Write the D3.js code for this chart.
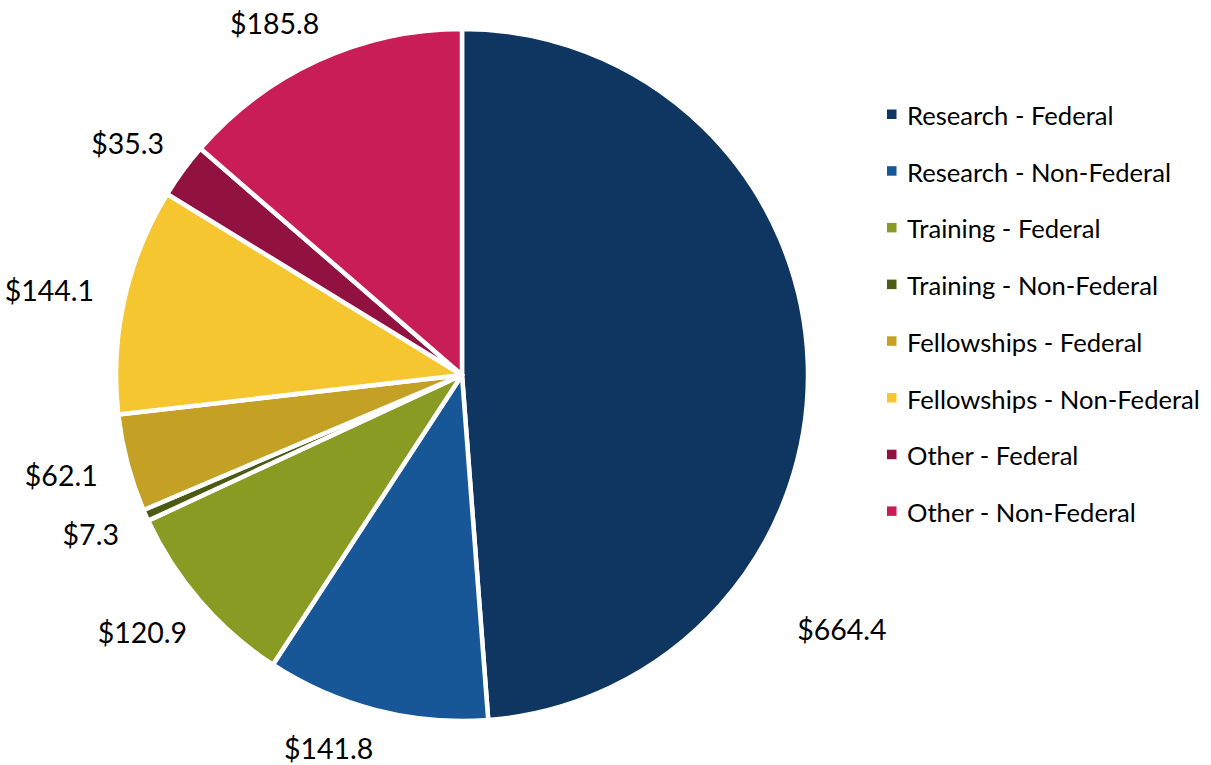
<!DOCTYPE html>
<html>
<head>
<meta charset="utf-8">
<script src="https://cdnjs.cloudflare.com/ajax/libs/d3/7.8.5/d3.min.js"></script>
<style>
  body { margin: 0; background: #fff; }
  text { font-family: Lato, "Open Sans", sans-serif; fill: #000; }
</style>
</head>
<body>
<div id="chart"></div>
<script>
// funding by source ($ millions)
var categories = ["Research - Federal", "Research - Non-Federal", "Training - Federal",
  "Training - Non-Federal", "Fellowships - Federal", "Fellowships - Non-Federal",
  "Other - Federal", "Other - Non-Federal"];
var values = [664.4, 141.8, 120.9, 7.3, 62.1, 144.1, 35.3, 185.8];
var colors = ["#0e3661", "#175797", "#8a9b24", "#4b5b13", "#c4a025", "#f5c630", "#911240", "#c81d56"];

var width = 1211, height = 765;
var cx = 462, cy = 375, radius = 346;

var svg = d3.select('#chart')
            .append('svg')
            .attr('width', width)
            .attr('height', height);

var data = categories.map(function(c, i) { return {name: c, value: values[i], color: colors[i]}; });

var pie = d3.pie()
      .value(function(d) { return d.value; })
      .sort(null);

var arc = d3.arc()
      .innerRadius(0)
      .outerRadius(radius);

var g = svg.append('g').attr('transform', 'translate(' + cx + ',' + cy + ')');

var arcs = pie(data);

g.selectAll('path')
  .data(arcs)
  .enter().append('path')
  .attr('d', arc)
  .attr('fill', function(d) { return d.data.color; })
  .attr('stroke', '#fff')
  .attr('stroke-width', 4.5)
  .attr('stroke-linejoin', 'round');

// labels: anchor just outside the rim on the mid angle, then push the
// text box outward so its near edge touches the anchor.
// the big slice label got moved down by excel's "best fit"
var labelR = 378;
var yMin = 22 - cy, yMax = 748 - cy;   // keep labels inside the picture
var labels = g.selectAll('text.lbl')
  .data(arcs)
  .enter().append('text')
  .attr('class', 'lbl')
  .attr('text-anchor', 'middle')
  .attr('dominant-baseline', 'central')
  .style('font-size', '28.5px')
  .text(function(d) { return '$' + d.value.toFixed(1); });

function place(a, r, w) {
  var s = Math.sin(a), c = -Math.cos(a);
  return [s * r + s * w / 2, c * r + c * 15];
}

labels.each(function(d, i) {
  var a = (d.startAngle + d.endAngle) / 2, r = labelR;
  if (i === 0) { a = 125.5 * Math.PI / 180; r = 422; }
  var w = this.getBBox().width;
  var p = place(a, r, w), step = 0.25 * Math.PI / 180, n = 0;
  // slide round the rim, away from the top/bottom, until it fits
  while ((p[1] < yMin || p[1] > yMax) && n < 200) {
    var dir = (p[1] < 0) === (Math.sin(a) < 0) ? -1 : 1;
    a += dir * step;
    p = place(a, r, w);
    n++;
  }
  d3.select(this).attr('x', p[0]).attr('y', p[1]);
});

// legend
var legend = svg.append('g').attr('transform', 'translate(887,114)');
var rows = legend.selectAll('g')
  .data(data)
  .enter().append('g')
  .attr('transform', function(d, i) { return 'translate(0,' + (i * 56.7) + ')'; });

rows.append('rect')
  .attr('x', 0).attr('y', -4.5)
  .attr('width', 9.5).attr('height', 9.5)
  .attr('fill', function(d) { return d.color; });

rows.append('text')
  .attr('x', 20)
  .attr('y', 1)
  .attr('dominant-baseline', 'central')
  .style('font-size', '25.6px')
  .text(function(d) { return d.name; });
</script>
</body>
</html>
